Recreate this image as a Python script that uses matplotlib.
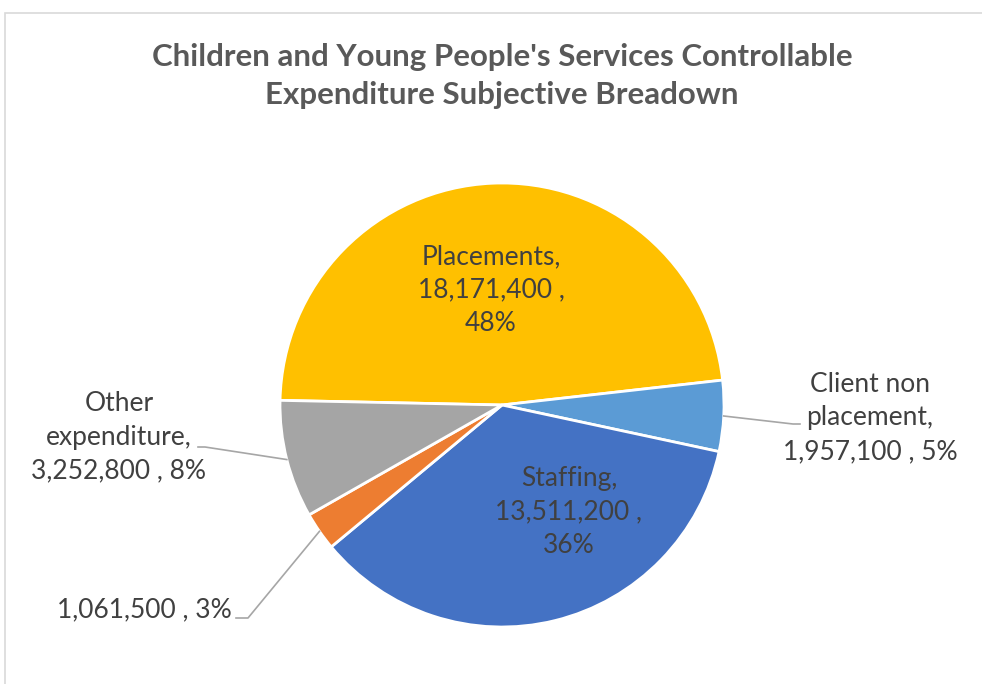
import numpy as np
import matplotlib.pyplot as plt
from matplotlib.patches import Rectangle

plt.rcParams['font.family'] = ['Lato', 'DejaVu Sans']

# data, in drawing order (clockwise from left)
names = ["Placements", "Client non placement", "Staffing", "", "Other expenditure"]
values = [18171400, 1957100, 13511200, 1061500, 3252800]
colors = ["#FFC000", "#5B9BD5", "#4472C4", "#ED7D31", "#A5A5A5"]
label_txt = ["Placements,\n18,171,400 ,\n48%",
             "Client non\nplacement,\n1,957,100 , 5%",
             "Staffing,\n13,511,200 ,\n36%",
             "1,061,500 , 3%",
             "Other\nexpenditure,\n3,252,800 , 8%"]

W, H = 982, 684
fig = plt.figure(figsize=(W / 100, H / 100), dpi=100)
ax = fig.add_axes([0, 0, 1, 1])
ax.set_xlim(0, W)
ax.set_ylim(0, H)
ax.set_aspect('equal')
ax.axis('off')

# chart frame
ax.add_patch(Rectangle((5.5, -20), 1000, H - 13 + 20, fill=False,
                       edgecolor="#D9D9D9", linewidth=1.2))

cx, cy, r = 502, H - 405, 222
start = 178.8
wedges, _ = ax.pie(values, colors=colors, startangle=start, counterclock=False,
                   center=(cx, cy), radius=r, frame=True,
                   wedgeprops=dict(edgecolor="white", linewidth=2))
ax.set_xlim(0, W)
ax.set_ylim(0, H)
ax.axis('off')

tc = "#404040"
fs = 19
ls = 1.42
# inside labels
ax.text(491, H - 290, label_txt[0], ha='center', va='center', fontsize=fs,
        color=tc, linespacing=ls)
ax.text(569, H - 512, label_txt[2], ha='center', va='center', fontsize=fs,
        color=tc, linespacing=ls)

# outside labels with leader lines from wedge mid-angles
def mid_point(w):
    a = np.deg2rad((w.theta1 + w.theta2) / 2)
    return cx + r * np.cos(a), cy + r * np.sin(a)

ax.text(870, H - 418, label_txt[1], ha='center', va='center', fontsize=fs,
        color=tc, linespacing=ls)
x0, y0 = mid_point(wedges[1])
ax.plot([x0, 793, 800], [y0, H - 424, H - 424], color="#A6A6A6", lw=1.2)

ax.text(119, H - 437, label_txt[4], ha='center', va='center', fontsize=fs,
        color=tc, linespacing=ls)
x0, y0 = mid_point(wedges[4])
ax.plot([x0, 205, 198], [y0, H - 447, H - 447], color="#A6A6A6", lw=1.2)

ax.text(232, H - 610, label_txt[3], ha='right', va='center', fontsize=fs,
        color=tc)
x0, y0 = mid_point(wedges[3])
ax.plot([x0, 248, 236], [y0, H - 618, H - 618], color="#A6A6A6", lw=1.2)

ax.text(502, H - 76, "Children and Young People's Services Controllable\n"
        "Expenditure Subjective Breadown", ha='center', va='center',
        fontsize=22.5, fontweight='bold', color="#595959", linespacing=1.42)

fig.savefig("out.png", dpi=100)
plt.close()
